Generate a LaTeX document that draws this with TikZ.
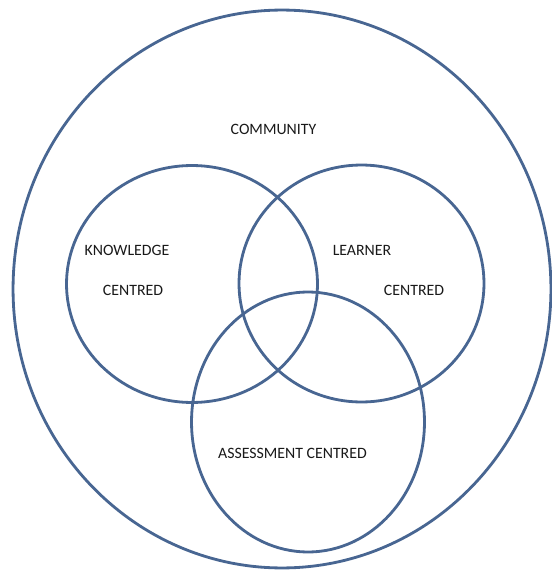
\documentclass[tikz,border=0pt]{standalone}
\usepackage{fontspec}
\setmainfont{Carlito}
\usetikzlibrary{shapes.geometric}
\definecolor{ringblue}{RGB}{72,102,146}
\tikzset{
  ring/.style={draw=ringblue, line width=1.6pt, ellipse, inner sep=0pt},
  lbl/.style={font=\fontsize{9}{11}\selectfont, text=black!90, inner sep=0pt}
}
\begin{document}
\begin{tikzpicture}[x=0.02cm, y=-0.02cm]
      \useasboundingbox (0,0) rectangle (551,571);
      \node[ring, minimum width=10.76cm, minimum height=11.16cm] (community) at (282,289) {};
      \node[ring, minimum width=5.02cm, minimum height=4.74cm] (knowledge) at (192,284) {};
      \node[ring, minimum width=4.9cm, minimum height=4.74cm] (learner) at (361.5,283.5) {};
      \node[ring, minimum width=4.66cm, minimum height=5.2cm] (assessment) at (308,422) {};
      \node[lbl] (communitytext) at (273.5,129) {COMMUNITY};
      \node[lbl] (knowledgetext) at (127,250) {KNOWLEDGE};
      \node[lbl] (knowledgecentred) at (133,290) {CENTRED};
      \node[lbl] (learnertext) at (362,250) {LEARNER};
      \node[lbl] (learnercentred) at (414,290) {CENTRED};
      \node[lbl] (assessmenttext) at (292.5,453) {ASSESSMENT CENTRED};
    \end{tikzpicture}
\end{document}
